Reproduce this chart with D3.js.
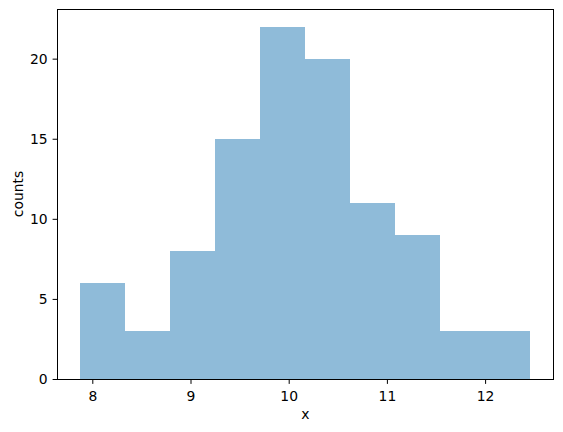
<!DOCTYPE html>
<html>
<head>
<meta charset="utf-8">
<script src="https://cdn.jsdelivr.net/npm/d3@7"></script>
<style>
  body { margin: 0; background: #fff; }
  svg { display: block; font-family: "DejaVu Sans", sans-serif; }
</style>
</head>
<body>
<svg id="chart" width="563" height="432"></svg>
<script>
// histogram bins
const binEdges = [7.875, 8.334, 8.792, 9.251, 9.710, 10.169, 10.627, 11.086, 11.545, 12.003, 12.462];
const counts = [6, 3, 8, 15, 22, 20, 11, 9, 3, 3];
const xTicks = [8, 9, 10, 11, 12];
const yTicks = [0, 5, 10, 15, 20];

const svg = d3.select("#chart");
const margin = { top: 9, right: 10, bottom: 53, left: 57.5 };
const width = 563 - margin.left - margin.right;
const height = 432 - margin.top - margin.bottom;
const fontSize = "13.9px";

// matplotlib style 5% padding on x, top padding on y
const lo = binEdges[0], hi = binEdges[binEdges.length - 1];
const pad = (hi - lo) * 0.05;
const x = d3.scaleLinear().domain([lo - pad, hi + pad]).range([0, width]);
const y = d3.scaleLinear().domain([0, d3.max(counts) * 1.05]).range([height, 0]);

const g = svg.append("g").attr("transform", `translate(${margin.left},${margin.top})`);

const bars = counts.map((c, i) => ({ x0: binEdges[i], x1: binEdges[i + 1], n: c }));

g.selectAll(".bar")
  .data(bars)
  .enter().append("rect")
  .attr("class", "bar")
  .attr("x", d => x(d.x0))
  .attr("width", d => x(d.x1) - x(d.x0))
  .attr("y", d => y(d.n))
  .attr("height", d => height - y(d.n))
  .attr("fill", "#1f77b4")
  .attr("fill-opacity", 0.5)
  .attr("shape-rendering", "crispEdges");

// frame
g.append("rect")
  .attr("width", width).attr("height", height)
  .attr("fill", "none").attr("stroke", "#000").attr("stroke-width", 1)
  .attr("shape-rendering", "crispEdges");

const xAxis = g.append("g")
  .attr("transform", `translate(0,${height})`)
  .call(d3.axisBottom(x).tickValues(xTicks).tickSize(4.9).tickPadding(6.8).tickFormat(d3.format("d")));
const yAxis = g.append("g")
  .call(d3.axisLeft(y).tickValues(yTicks).tickSize(4.9).tickPadding(4.9).tickFormat(d3.format("d")));

[xAxis, yAxis].forEach(a => {
  a.select(".domain").remove();
  a.selectAll("line").attr("stroke", "#000").attr("stroke-width", 1);
  a.selectAll("text")
    .style("font-size", fontSize)
    .style("font-family", "DejaVu Sans, sans-serif")
    .attr("fill", "#000");
});

svg.append("text")
  .attr("x", margin.left + width / 2)
  .attr("y", 419.3)
  .attr("text-anchor", "middle")
  .style("font-size", fontSize)
  .text("x");

svg.append("text")
  .attr("transform", `translate(22.7,${margin.top + height / 2}) rotate(-90)`)
  .attr("text-anchor", "middle")
  .style("font-size", fontSize)
  .text("counts");
</script>
</body>
</html>
